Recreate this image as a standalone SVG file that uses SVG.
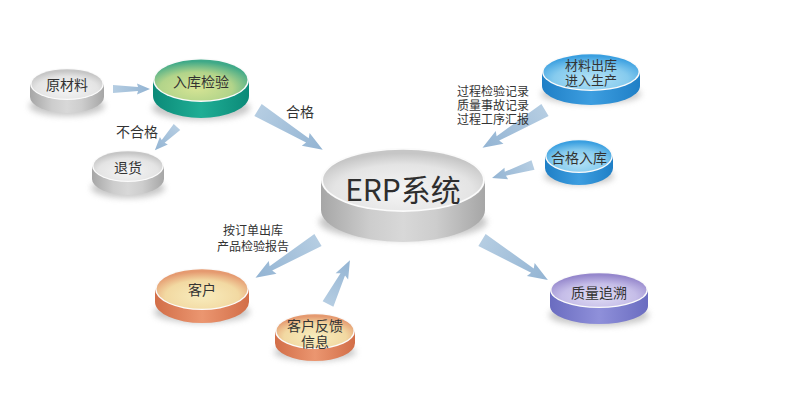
<svg xmlns="http://www.w3.org/2000/svg" width="800" height="411" viewBox="0 0 800 411">
<defs>
<style>
.t{font-family:"Liberation Sans","Noto Sans CJK SC",sans-serif;fill:#333;text-anchor:middle;}
.n{font-size:14px;}
.l{font-size:12px;}
.arr{fill:url(#arrG);}
.sh{fill:#9a9a9a;opacity:.55;filter:url(#blur);}
.rim{fill:#fbfbfb;}
</style>
<filter id="blur" x="-30%" y="-60%" width="160%" height="220%"><feGaussianBlur stdDeviation="3"/></filter>
<linearGradient id="arrG" x1="0" y1="0" x2="1" y2="0"><stop offset="0" stop-color="#b5cde2"/><stop offset="1" stop-color="#93b4d3"/></linearGradient>
<linearGradient id="sGray" x1="0" y1="0" x2="1" y2="0"><stop offset="0" stop-color="#a6a6a6"/><stop offset=".3" stop-color="#cdcdcd"/><stop offset=".5" stop-color="#d8d8d8"/><stop offset=".7" stop-color="#cdcdcd"/><stop offset="1" stop-color="#a6a6a6"/></linearGradient>
<radialGradient id="tGray" cx=".5" cy=".68" r=".62"><stop offset="0" stop-color="#f5f5f5"/><stop offset=".7" stop-color="#e4e4e4"/><stop offset="1" stop-color="#c6c6c6"/></radialGradient>
<linearGradient id="sGreen" x1="0" y1="0" x2="1" y2="0"><stop offset="0" stop-color="#0b8a78"/><stop offset=".5" stop-color="#1fae95"/><stop offset="1" stop-color="#0b8a78"/></linearGradient>
<radialGradient id="tGreen" cx=".45" cy=".7" r=".65"><stop offset="0" stop-color="#d6e494"/><stop offset=".6" stop-color="#b2d48a"/><stop offset="1" stop-color="#3fa988"/></radialGradient>
<linearGradient id="sBlue" x1="0" y1="0" x2="1" y2="0"><stop offset="0" stop-color="#1f7fc6"/><stop offset=".5" stop-color="#3d9ee0"/><stop offset="1" stop-color="#1f7fc6"/></linearGradient>
<radialGradient id="tBlue" cx=".5" cy=".7" r=".65"><stop offset="0" stop-color="#b4e2f6"/><stop offset=".6" stop-color="#86cbee"/><stop offset="1" stop-color="#3a9fe0"/></radialGradient>
<linearGradient id="sOrange" x1="0" y1="0" x2="1" y2="0"><stop offset="0" stop-color="#d26e48"/><stop offset=".5" stop-color="#eb9670"/><stop offset="1" stop-color="#d26e48"/></linearGradient>
<radialGradient id="tOrange" cx=".5" cy=".68" r=".62"><stop offset="0" stop-color="#f8ecbd"/><stop offset=".65" stop-color="#f2d9a2"/><stop offset="1" stop-color="#e59a70"/></radialGradient>
<linearGradient id="sPurple" x1="0" y1="0" x2="1" y2="0"><stop offset="0" stop-color="#6a6cc0"/><stop offset=".5" stop-color="#8f90da"/><stop offset="1" stop-color="#6a6cc0"/></linearGradient>
<radialGradient id="tPurple" cx=".5" cy=".7" r=".65"><stop offset="0" stop-color="#e0dcf4"/><stop offset=".6" stop-color="#c5bde8"/><stop offset="1" stop-color="#9587cc"/></radialGradient>
</defs>
<rect width="800" height="411" fill="#ffffff"/>

<g id="connectors">
<path class="arr" transform="translate(113,89) rotate(0)" d="M0,-4 L25,-2 L24,-5.5 L37,0 L24,5.5 L25,2 L0,4 Z"/>
<path class="arr" transform="translate(177,127) rotate(133.7)" d="M0,-4.5 L20,-2 L19,-5.5 L32,0 L19,5.5 L20,2 L0,4.5 Z"/>
<path class="arr" transform="translate(258,110) rotate(31.6)" d="M0,-7 L58,-2.5 L56,-7.5 L76,0 L56,7.5 L58,2.5 L0,7 Z"/>
<path class="arr" transform="translate(545,110) rotate(148.9)" d="M0,-7 L55,-2.5 L53,-7.5 L73,0 L53,7.5 L55,2.5 L0,7 Z"/>
<path class="arr" transform="translate(533,165) rotate(162.4)" d="M0,-5 L29,-2 L28,-6 L43,0 L28,6 L29,2 L0,5 Z"/>
<path class="arr" transform="translate(318,240) rotate(148.9)" d="M0,-7 L55,-2.5 L53,-7.5 L73,0 L53,7.5 L55,2.5 L0,7 Z"/>
<path class="arr" transform="translate(328,304) rotate(-63.4)" d="M0,-6 L33,-2.5 L31,-7 L49,0 L31,7 L33,2.5 L0,6 Z"/>
<path class="arr" transform="translate(482,240) rotate(31.2)" d="M0,-7 L59,-2.5 L57,-7.5 L77,0 L57,7.5 L59,2.5 L0,7 Z"/>
</g>

<g id="labels">
<text class="t n" x="300" y="117">合格</text>
<text class="t n" x="137" y="137">不合格</text>
<text class="t l" x="493" y="96"><tspan x="493">过程检验记录</tspan><tspan x="493" dy="14">质量事故记录</tspan><tspan x="493" dy="14">过程工序汇报</tspan></text>
<text class="t l" x="253" y="235"><tspan x="253">按订单出库</tspan><tspan x="253" dy="16">产品检验报告</tspan></text>
</g>

<g id="node-yuancailiao" transform="translate(67,84)">
<ellipse class="sh" cx="0" cy="22" rx="38" ry="10"/>
<path d="M-37,0 V13 A37,16 0 0 0 37,13 V0 Z" fill="url(#sGray)"/>
<ellipse class="rim" rx="37" ry="16"/>
<ellipse rx="35.5" ry="14.8" fill="url(#tGray)"/>
<text class="t n" x="0" y="6">原材料</text>
</g>

<g id="node-rukujianyan" transform="translate(201,80)">
<ellipse class="sh" cx="0" cy="28" rx="49" ry="12"/>
<path d="M-48,0 V16 A48,22 0 0 0 48,16 V0 Z" fill="url(#sGreen)"/>
<ellipse class="rim" rx="48" ry="22"/>
<ellipse rx="46.5" ry="20.6" fill="url(#tGreen)"/>
<text class="t n" x="0" y="7">入库检验</text>
</g>

<g id="node-tuihuo" transform="translate(128,166)">
<ellipse class="sh" cx="0" cy="22" rx="37" ry="10"/>
<path d="M-36,0 V13 A36,16 0 0 0 36,13 V0 Z" fill="url(#sGray)"/>
<ellipse class="rim" rx="36" ry="16"/>
<ellipse rx="34.5" ry="14.8" fill="url(#tGray)"/>
<text class="t n" x="0" y="7">退货</text>
</g>

<g id="node-erp" transform="translate(403,180)">
<ellipse class="sh" cx="0" cy="42" rx="84" ry="18"/>
<path d="M-82,0 V30 A82,32 0 0 0 82,30 V0 Z" fill="url(#sGray)"/>
<ellipse class="rim" rx="82" ry="32"/>
<ellipse rx="80" ry="30.3" fill="url(#tGray)"/>
<text class="t" x="0" y="21" style="font-size:30px;fill:#2e2e2e;font-family:'Noto Sans CJK SC','Liberation Sans',sans-serif">ERP系统</text>
</g>

<g id="node-cailiaochuku" transform="translate(591,72)">
<ellipse class="sh" cx="0" cy="22" rx="50" ry="10"/>
<path d="M-49,0 V14 A49,19 0 0 0 49,14 V0 Z" fill="url(#sBlue)"/>
<ellipse class="rim" rx="49" ry="19"/>
<ellipse rx="47.5" ry="17.7" fill="url(#tBlue)"/>
<text class="t n" x="0" y="-2" style="font-size:13px"><tspan x="0">材料出库</tspan><tspan x="0" dy="15">进入生产</tspan></text>
</g>

<g id="node-hegeruku" transform="translate(579,156)">
<ellipse class="sh" cx="0" cy="20" rx="35" ry="9"/>
<path d="M-34,0 V12 A34,17 0 0 0 34,12 V0 Z" fill="url(#sBlue)"/>
<ellipse class="rim" rx="34" ry="17"/>
<ellipse rx="32.5" ry="15.7" fill="url(#tBlue)"/>
<text class="t n" x="0" y="7">合格入库</text>
</g>

<g id="node-kehu" transform="translate(202,289)">
<ellipse class="sh" cx="0" cy="23" rx="48" ry="11"/>
<path d="M-47,0 V13 A47,21 0 0 0 47,13 V0 Z" fill="url(#sOrange)"/>
<ellipse class="rim" rx="47" ry="21"/>
<ellipse rx="45.5" ry="19.7" fill="url(#tOrange)"/>
<text class="t n" x="0" y="6">客户</text>
</g>

<g id="node-kehufankui" transform="translate(315,331)">
<ellipse class="sh" cx="0" cy="21" rx="41" ry="9"/>
<path d="M-40,0 V12 A40,18 0 0 0 40,12 V0 Z" fill="url(#sOrange)"/>
<ellipse class="rim" rx="40" ry="18"/>
<ellipse rx="38.5" ry="16.7" fill="url(#tOrange)"/>
<text class="t n" x="0" y="0"><tspan x="0">客户反馈</tspan><tspan x="0" dy="16">信息</tspan></text>
</g>

<g id="node-zhiliangzhuisu" transform="translate(599,290)">
<ellipse class="sh" cx="0" cy="25" rx="50" ry="11"/>
<path d="M-49,0 V16 A49,18 0 0 0 49,16 V0 Z" fill="url(#sPurple)"/>
<ellipse class="rim" rx="49" ry="18"/>
<ellipse rx="47.5" ry="16.7" fill="url(#tPurple)"/>
<text class="t n" x="0" y="8">质量追溯</text>
</g>
</svg>
